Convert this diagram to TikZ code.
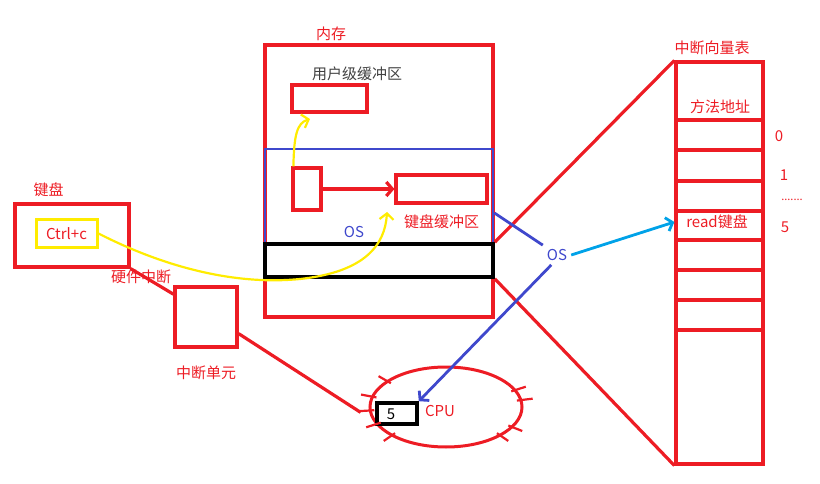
\documentclass[tikz,border=0pt]{standalone}
\usepackage{fontspec}
\setmainfont{Noto Sans CJK SC}
\usepackage{tikz}
\usetikzlibrary{arrows.meta, positioning, shapes.geometric, calc}
\definecolor{paintred}{RGB}{237,28,36}
\definecolor{paintblue}{RGB}{63,72,204}
\definecolor{paintyellow}{RGB}{255,236,0}
\definecolor{paintcyan}{RGB}{0,162,232}

\begin{document}
\begin{tikzpicture}[
  x=1pt, y=-1pt,
  box/.style={draw=paintred, line width=3.2pt, inner sep=0pt},
  bluebox/.style={box, draw=paintblue, line width=2.8pt},
  blackbox/.style={box, draw=black, line width=3.6pt},
  yellowbox/.style={box, draw=paintyellow, line width=3pt},
  lbl/.style={font=\fontsize{15}{17}\selectfont, inner sep=0pt, text=paintred},
  redline/.style={draw=paintred, line width=3.2pt},
  blueline/.style={draw=paintblue, line width=2.8pt},
  yline/.style={draw=paintyellow, line width=2.2pt},
  barb/.style={-{Straight Barb[length=6pt, width=14pt]}}
]
  \useasboundingbox (0,0) rectangle (820,484);

  % keyboard side
  \node[box, minimum width=114pt, minimum height=63pt] (kbd) at (72,235.5) {};
  \node[yellowbox, minimum width=61pt, minimum height=27pt] (ctrl) at (66.5,233.5) {};
  \node[lbl] at (ctrl.center) {Ctrl+c};
  \node[lbl, above=5pt of kbd.north west, anchor=south west, xshift=20pt] (kbdlbl) {键盘};
  \node[box, minimum width=62pt, minimum height=60pt] (unit) at (206,317) {};
  \node[lbl] (hwint) at (141,277) {硬件中断};
  \node[lbl, below=17pt of unit] (unitlbl) {中断单元};

  % memory
  \node[box, minimum width=228pt, minimum height=272pt] (mem) at (379,181) {};
  \node[lbl] (memlbl) at (331,34) {内存};
  \node[bluebox, minimum width=228pt, minimum height=128pt] (osbox) at (379,213) {};
  \node[blackbox, minimum width=228pt, minimum height=33pt] (kern) at (379,260.5) {};
  \node[lbl, text=black!75] (ubuflbl) at (357,74) {用户级缓冲区};
  \node[box, minimum width=75pt, minimum height=27pt] (ubuf) at (329.5,98.5) {};
  \node[box, minimum width=28pt, minimum height=42pt] (smallbuf) at (307,189) {};
  \node[box, minimum width=91pt, minimum height=28pt] (kbbuf) at (441.5,189) {};
  \node[lbl, below=10pt of kbbuf] (kbbuflbl) {键盘缓冲区};
  \node[lbl, text=paintblue] (osin) at (354,232) {OS};
  \node[lbl, text=paintblue, inner sep=4pt] (osout) at (557,255) {OS};

  % cpu
  \node[ellipse, draw=paintred, line width=3pt, minimum width=152pt, minimum height=80pt] (cpu) at (446,407) {};
  \node[blackbox, minimum width=40pt, minimum height=21pt] (fivebox) at (397,413.5) {};
  \node[lbl, text=black] at (391,414) {5};
  \node[lbl] (cpulbl) at (440,411) {CPU};
  \foreach \a in {135,155,175,195,220,335,350,30,45}
    \draw[redline, line width=2.2pt] ($(cpu.center)+(\a:72 and 37)$) -- ($(cpu.center)+(\a:88 and 48)$);

  % vector table
  \node[box, minimum width=87pt, minimum height=402pt] (vtab) at (719.5,263) {};
  \node[lbl] (vtablbl) at (712,48) {中断向量表};
  \foreach \y in {120,150,181,211,240,270,300,330}
    \draw[redline] (vtab.west |- 0,\y) -- (vtab.east |- 0,\y);
  \node[lbl] (addrlbl) at (720,107) {方法地址};
  \node[lbl] (readlbl) at (717,222) {read键盘};
  \node[lbl] (idx0) at (779,136) {0};
  \node[lbl] (idx1) at (784,175) {1};
  \node[lbl, font=\fontsize{11}{12}\selectfont] (dots) at (792,200) {.......};
  \node[lbl] (idx5) at (785,227) {5};

  % connectors
  \coordinate (kbhit) at (387,212);
  \coordinate (ubhit) at (310,119);
  \draw[yline, barb] (ctrl.east) .. controls (170,270) and (240,285) .. (300,279)
    .. controls (365,272) and (385,245) .. (kbhit);
  \draw[yline, barb] ([xshift=2pt]smallbuf.north west) .. controls (294,135) and (297,123) .. (ubhit);
  \draw[redline, barb] (smallbuf.east) -- (kbbuf.west);
  \draw[redline] (kbd.south east) -- (unit.145);
  \draw[redline, shorten >=14pt] (unit.-27) -- (cpu.190);
  \draw[redline] (kern.north east) -- (vtab.north west);
  \draw[redline] (kern.south east) -- (vtab.south west);
  \draw[blueline] (osbox.east) -- (osout.north west);
  \draw[blueline, barb] (osout.-120) -- (fivebox.north east);
  \draw[draw=paintcyan, line width=2.8pt, barb] (osout.east) -- (vtab.west |- readlbl);
\end{tikzpicture}
\end{document}
